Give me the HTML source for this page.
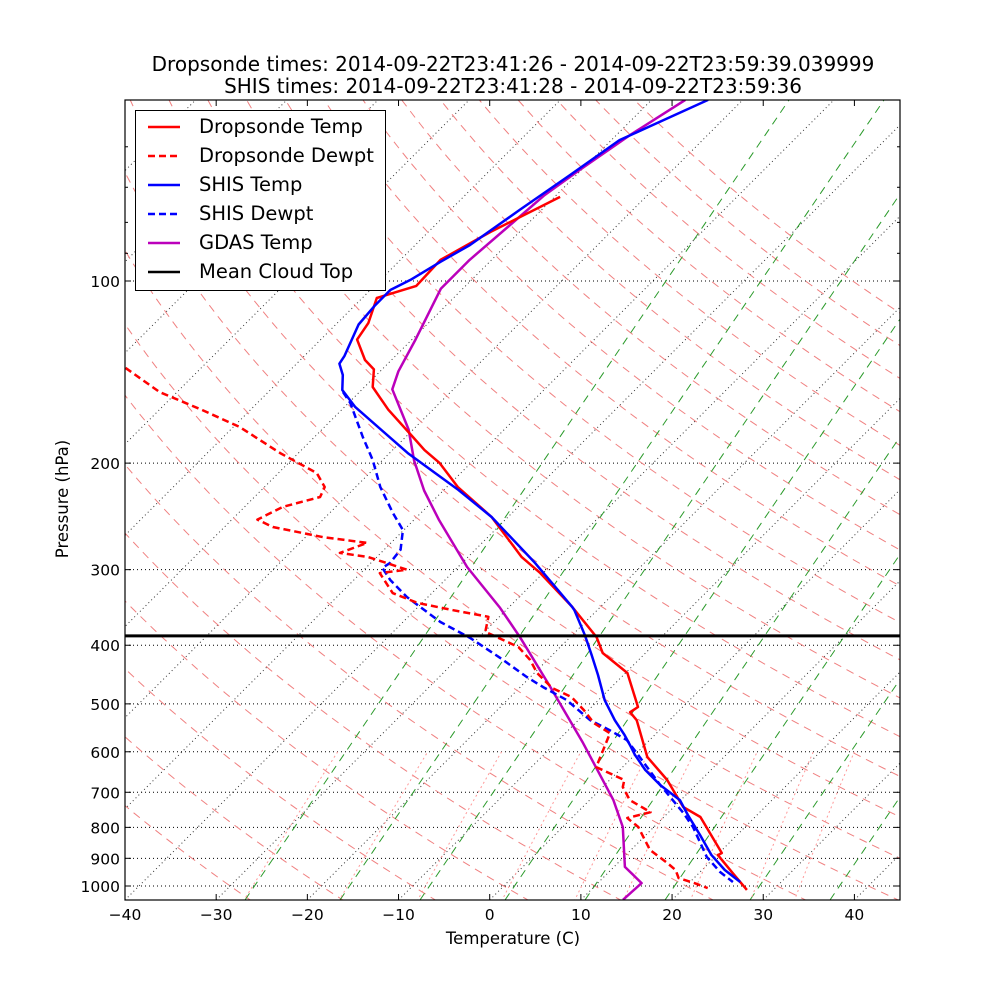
<!DOCTYPE html>
<html><head><meta charset="utf-8"><style>
html,body{margin:0;padding:0;background:#fff;}
svg text{font-family:"DejaVu Sans","Liberation Sans",sans-serif;}
</style></head><body>
<svg id="chart" width="1000" height="1000" viewBox="0 0 1000 1000" xmlns="http://www.w3.org/2000/svg">
<defs><clipPath id="plotclip"><rect x="125" y="100" width="775" height="800"/></clipPath></defs>
<rect x="0" y="0" width="1000" height="1000" fill="#fff"/>
<text x="513" y="71" font-size="20" text-anchor="middle">Dropsonde times: 2014-09-22T23:41:26 - 2014-09-22T23:59:39.039999</text>
<text x="513" y="93" font-size="20" text-anchor="middle">SHIS times: 2014-09-22T23:41:28 - 2014-09-22T23:59:36</text>
<g id="bg" clip-path="url(#plotclip)"></g>
<g id="series" clip-path="url(#plotclip)"></g>
<g id="axes"></g>
<text x="513" y="944" font-size="16.5" text-anchor="middle">Temperature (C)</text>
<text x="68" y="499" font-size="16.5" text-anchor="middle" transform="rotate(-90 68 499)">Pressure (hPa)</text>
<g>
<rect x="135.5" y="110.5" width="250" height="180" fill="#fff" stroke="#000" stroke-width="1"/>
<line x1="148" y1="127" x2="180" y2="127" stroke="#f00" stroke-width="2.5"/>
<text x="199" y="133" font-size="19.5">Dropsonde Temp</text>
<line x1="148" y1="156" x2="180" y2="156" stroke="#f00" stroke-width="2.5" stroke-dasharray="7,4"/>
<text x="199" y="162" font-size="19.5">Dropsonde Dewpt</text>
<line x1="148" y1="185" x2="180" y2="185" stroke="#00f" stroke-width="2.5"/>
<text x="199" y="191" font-size="19.5">SHIS Temp</text>
<line x1="148" y1="214" x2="180" y2="214" stroke="#00f" stroke-width="2.5" stroke-dasharray="7,4"/>
<text x="199" y="220" font-size="19.5">SHIS Dewpt</text>
<line x1="148" y1="243" x2="180" y2="243" stroke="#b0b" stroke-width="2.5"/>
<text x="199" y="249" font-size="19.5">GDAS Temp</text>
<line x1="148" y1="272" x2="180" y2="272" stroke="#000" stroke-width="2.5"/>
<text x="199" y="278" font-size="19.5">Mean Cloud Top</text>
</g>
</svg>
<script>
const dropP=[1015,952,889,882,769,740,668,612,532,516,506,444.5,412,388,345.7,304,286,245.5,219,200,190.3,181.1,163.2,149.7,140,135.1,125,117.3,106.7,101.9,92.3,83.0,72.6];
const dropT=[27.1,23.7,20.1,20.3,14.0,11.0,6.3,1.6,-3.6,-5.2,-4.9,-9.8,-14.7,-17.1,-23.1,-30.3,-34.1,-41.8,-48.8,-53.4,-56.5,-59.2,-64.9,-69.1,-70.9,-72.9,-76.0,-76.6,-78.4,-75.4,-75.6,-73.2,-69.4];
const dropTdP=[139.2,152.6,163,174.3,192.5,207.7,219,227.5,236.3,248,255,265,271,281.5,286,300,304,328,340.5,350,359,380,402.7,423,444.5,470.7,487,512,537.7,559,636,668,686,721,755,772,799,872,916,941,970,989,1008];
const dropTd=[-98.3,-91.9,-85.5,-79.3,-72.0,-65.8,-63.4,-62.8,-65.8,-67.2,-64.7,-58.1,-52.6,-54.5,-50.9,-45.3,-47.9,-44.3,-40.5,-35.8,-31.2,-29.9,-24.6,-21.9,-19.7,-16.4,-13.3,-10.5,-8.0,-5.1,-2.9,1.6,2.2,4.4,8.0,6.1,8.3,12.1,15.4,17.1,18.3,20.6,22.6,23.2];
const shisP=[985,941,889,823,763,721,681,643,607,585,563,532,493,448,415,385,350,345.7,292.4,245.5,221.5,192.5,161.6,151.4,143,137,133,118,109.6,103.5,99.6,93,87.2,76.3,66.8,58.5,50.2];
const shisT=[25.5,22.5,19.4,15.9,12.4,9.9,6.1,2.8,0.0,-1.6,-3.3,-6.0,-9.3,-12.8,-15.7,-18.6,-22.5,-23.1,-32.0,-41.8,-48.4,-58.0,-68.8,-72.1,-73.7,-75.3,-75.6,-77.5,-77.8,-77.8,-76.7,-75.4,-74.0,-72.4,-70.7,-69.1,-63.8];
const shisTdP=[152.6,159.1,181.1,197.6,219,241.6,258,278,292.4,298,312,333,366.1,389,419.8,451.3,469,492.7,532,552.4,573.8,602.9,681,757.4,799,895.6,948,985];
const shisTd=[-71.8,-69.8,-64.7,-61.1,-57.3,-53.1,-50.1,-48.2,-47.9,-48.2,-46.0,-42.3,-35.9,-30.9,-25.4,-20.4,-17.5,-13.5,-8.7,-5.5,-2.5,0.0,6.1,11.7,14.3,19.1,22.2,24.7];
const gdasP=[1054,989,930,799,721,580,469,388,347,297,248,222,198,176,151,141,125,103,92.3,80.8,72.1,65.5,57.4,50.2];
const gdasT=[14.6,14.8,11.2,6.6,2.6,-7.0,-16.7,-25.5,-30.9,-39.0,-47.3,-52.1,-56.5,-60.5,-66.7,-68.0,-69.6,-72.4,-72.4,-71.8,-71.3,-70.2,-68.5,-66.3];
const cloudTopP=[386];
const xTicks=[-40,-30,-20,-10,0,10,20,30,40];
const yTicks=[100,200,300,400,500,600,700,800,900,1000];

const NS="http://www.w3.org/2000/svg";
const L=125,R=900,T0=100,B=900;
function xT(t){return L+(t+40)*775/85;}
function yP(p){return 886+605*Math.log10(p/1000);}
function X(t,p){return xT(t)+(B-yP(p));}
function mk(tag,attrs,parent){const e=document.createElementNS(NS,tag);for(const k in attrs)e.setAttribute(k,attrs[k]);parent.appendChild(e);return e;}
const bg=document.getElementById('bg'),ser=document.getElementById('series'),ax=document.getElementById('axes');

yTicks.forEach(p=>{
  const g=mk('line',{x1:L,x2:R,y1:yP(p),y2:yP(p),stroke:'#000','stroke-width':1,'stroke-dasharray':'1,3'},bg);
  
  
});
for(let t=-130;t<=50;t+=10){
  const l=mk('line',{x1:xT(t),y1:B,x2:xT(t)+(B-T0),y2:T0,stroke:'#000','stroke-width':1,'stroke-dasharray':'1,3','opacity':0.8},bg);
  
  
}
for(let th=-30;th<=200;th+=10){
  let d='';
  for(let p=1060;p>=48;p*=0.97){
    const t=(th+273.15)*Math.pow(p/1000,0.2857)-273.15;
    d+=(d?'L':'M')+X(t,p).toFixed(1)+' '+yP(p).toFixed(1);
  }
  const a=mk('path',{d:d,fill:'none',stroke:'#f08080','stroke-width':1,'stroke-dasharray':'8,6'},bg);
  
  
}
[245,340,420,505,585,665,750,830,910,990,1070,1150,1230].forEach(x0=>{
  const m=mk('line',{x1:x0,y1:B,x2:x0+0.68*800,y2:T0,stroke:'#2a9a2a','stroke-width':1,'stroke-dasharray':'8,6'},bg);
  
  
});
[0.4,1,2,4,7,10,16,24,32].forEach(w=>{
  let d='';
  for(let p=1060;p>=600;p-=10){
    const e=w*p/(622+w),ln=Math.log(e/6.112);
    const td=243.5*ln/(17.67-ln);
    d+=(d?'L':'M')+X(td,p).toFixed(1)+' '+yP(p).toFixed(1);
  }
  const m=mk('path',{d:d,fill:'none',stroke:'#f99','stroke-width':1,'stroke-dasharray':'2,3'},bg);
  
  
});

function series(P,Tv,color,dash,name){
  const d=P.map((p,i)=>(i?'L':'M')+X(Tv[i],p).toFixed(1)+' '+yP(p).toFixed(1)).join('');
  const s=mk('path',{d:d,fill:'none',stroke:color,'stroke-width':2.5,'stroke-linejoin':'round'},ser);
  if(dash)s.setAttribute('stroke-dasharray',dash);
  
  
}
series(gdasP,gdasT,'#b0b',null,'gdas-temp-line');
series(shisTdP,shisTd,'#00f','7,4','shis-dewpt-line');
series(dropTdP,dropTd,'#f00','7,4','dropsonde-dewpt-line');
series(dropP,dropT,'#f00',null,'dropsonde-temp-line');
series(shisP,shisT,'#00f',null,'shis-temp-line');
cloudTopP.forEach(p=>{
  const c=mk('line',{x1:L,x2:R,y1:yP(p),y2:yP(p),stroke:'#000','stroke-width':3},ser);
  
  
});

const fr=mk('rect',{x:L,y:T0,width:R-L,height:B-T0,fill:'none',stroke:'#000','stroke-width':1.2},ax);


xTicks.forEach(t=>{
  const x=xT(t);
  mk('line',{x1:x,x2:x,y1:B,y2:B-6,stroke:'#000'},ax);
  mk('line',{x1:x,x2:x,y1:T0,y2:T0+6,stroke:'#000'},ax);
  const lb=mk('text',{x:x,y:B+20,'font-size':15.5,'text-anchor':'middle'},ax);
  lb.textContent=(t<0?'\u2212':'')+Math.abs(t);
  
  
});
yTicks.forEach(p=>{
  const y=yP(p);
  mk('line',{x1:L,x2:L+6,y1:y,y2:y,stroke:'#000'},ax);
  mk('line',{x1:R,x2:R-6,y1:y,y2:y,stroke:'#000'},ax);
  const lb=mk('text',{x:L-5,y:y+6,'font-size':15.5,'text-anchor':'end'},ax);
  lb.textContent=p;
  
  
});
[60,70,80,90].forEach(p=>{
  const y=yP(p);
  mk('line',{x1:L,x2:L+3,y1:y,y2:y,stroke:'#000'},ax);
  mk('line',{x1:R,x2:R-3,y1:y,y2:y,stroke:'#000'},ax);
});
</script>
</body></html>
